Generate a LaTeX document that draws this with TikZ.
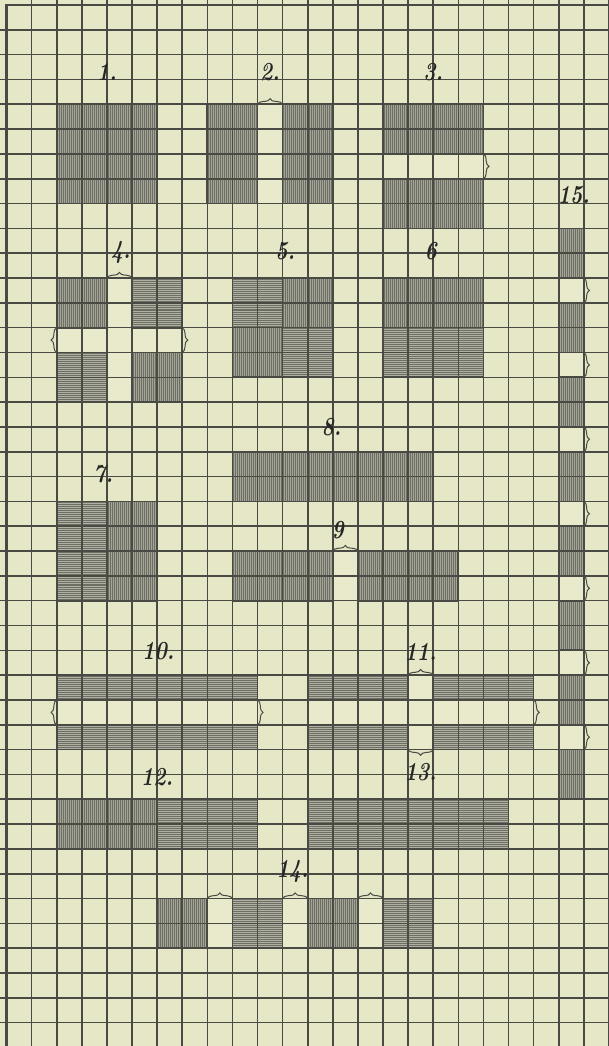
\documentclass[tikz,border=0pt]{standalone}
\usetikzlibrary{decorations.pathreplacing}
\definecolor{paper}{HTML}{E6E7C6}
\definecolor{paperlt}{HTML}{E9EACC}
\definecolor{gridc}{HTML}{4A4A44}
\definecolor{vfillc}{HTML}{A4A596}
\definecolor{hfillc}{HTML}{B0B1A2}
\definecolor{hatchc}{HTML}{6E6F64}
\tikzset{
  gridline/.style={draw=gridc, line width=0.8pt},
  borderline/.style={draw=gridc, line width=1.4pt},
  blockedge/.style={draw=gridc, line width=0.85pt},
  hatch/.style={draw=hatchc, line width=0.3pt},
  gapfill/.style={fill=paperlt},
  gapbrace/.style={draw=gridc, line width=0.5pt, decorate, decoration={brace, amplitude=2.8pt}},
  figlabel/.style={font=\fontsize{13}{13}\selectfont\bfseries\itshape, text=black!85, inner sep=0pt},
}
\newcommand{\vblk}[4]{%
  \begin{scope}
    \clip (#1,#2) rectangle (#3,#4);
    \fill[vfillc] (#1,#2) rectangle (#3,#4);
    \foreach \k in {0,...,100} \draw[hatch] ({#1+0.04+0.08*\k},#2) -- ({#1+0.04+0.08*\k},#4);
  \end{scope}}
\newcommand{\hblk}[4]{%
  \begin{scope}
    \clip (#1,#2) rectangle (#3,#4);
    \fill[hfillc] (#1,#2) rectangle (#3,#4);
    \foreach \k in {0,...,55} \draw[hatch] (#1,{#2+0.04+0.08*\k}) -- (#3,{#2+0.04+0.08*\k});
  \end{scope}}
\newcommand{\lab}[1]{\scalebox{0.8}[1]{#1}}
\begin{document}
\begin{tikzpicture}[x=12.55pt, y=-12.41pt]
  \useasboundingbox (-0.259,-0.2015) rectangle (24.004,41.942);
  \fill[paper] (-0.259,-0.2015) rectangle (24.004,41.942);
  % gaps (lighter paper)
  \fill[gapfill] (10,4) rectangle (11,8);
  \fill[gapfill] (15,6) rectangle (19,7);
  \fill[gapfill] (4,11) rectangle (5,16);
  \fill[gapfill] (2,13) rectangle (7,14);
  \fill[gapfill] (13,22) rectangle (14,24);
  \fill[gapfill] (2,28) rectangle (10,29);
  \fill[gapfill] (16,27) rectangle (17,30);
  \fill[gapfill] (12,28) rectangle (21,29);
  \fill[gapfill] (8,36) rectangle (9,38);
  \fill[gapfill] (11,36) rectangle (12,38);
  \fill[gapfill] (14,36) rectangle (15,38);
  \foreach \r in {11,14,17,20,23,26,29} \fill[gapfill] (22,\r) rectangle (23,\r+1);
  % fig 1
  \vblk{2}{4}{6}{8}
  % fig 2
  \vblk{8}{4}{10}{8} \vblk{11}{4}{13}{8}
  % fig 3
  \vblk{15}{4}{19}{6} \vblk{15}{7}{19}{9}
  % fig 4
  \vblk{2}{11}{4}{13} \hblk{5}{11}{7}{13}
  \hblk{2}{14}{4}{16} \vblk{5}{14}{7}{16}
  % fig 5
  \hblk{9}{11}{11}{13} \vblk{11}{11}{13}{13}
  \vblk{9}{13}{11}{15} \hblk{11}{13}{13}{15}
  % fig 6
  \vblk{15}{11}{19}{13} \hblk{15}{13}{19}{15}
  % fig 7
  \hblk{2}{20}{4}{24} \vblk{4}{20}{6}{24}
  % fig 8
  \vblk{9}{18}{17}{20}
  % fig 9
  \vblk{9}{22}{13}{24} \vblk{14}{22}{18}{24}
  % fig 10
  \hblk{2}{27}{10}{28} \hblk{2}{29}{10}{30}
  % fig 11
  \hblk{12}{27}{16}{28} \hblk{17}{27}{21}{28}
  \hblk{12}{29}{16}{30} \hblk{17}{29}{21}{30}
  % fig 12
  \vblk{2}{32}{6}{34} \hblk{6}{32}{10}{34}
  % fig 13
  \hblk{12}{32}{20}{34}
  % fig 14
  \vblk{6}{36}{8}{38} \hblk{9}{36}{11}{38}
  \vblk{12}{36}{14}{38} \hblk{15}{36}{17}{38}
  % fig 15
  \foreach \r in {9,12,15,18,21,24,27,30} \vblk{22}{\r}{23}{\r+2}
  % grid
  \foreach \i in {1,...,24} \draw[gridline] (\i,-0.3) -- (\i,42.3);
  \foreach \j in {1,...,42} \draw[gridline] (-0.3,\j) -- (24.3,\j);
  \draw[borderline] (0,42.3) -- (0,0) -- (24.3,0);
  % block outlines
  \foreach \a/\b/\c/\d in {2/4/6/8, 8/4/10/8, 11/4/13/8, 15/4/19/6, 15/7/19/9,
      2/11/4/13, 5/11/7/13, 2/14/4/16, 5/14/7/16, 9/11/13/15, 15/11/19/15,
      2/20/6/24, 9/18/17/20, 9/22/13/24, 14/22/18/24,
      2/27/10/28, 2/29/10/30, 12/27/16/28, 17/27/21/28, 12/29/16/30, 17/29/21/30,
      2/32/10/34, 12/32/20/34, 6/36/8/38, 9/36/11/38, 12/36/14/38, 15/36/17/38}
    \draw[blockedge] (\a,\b) rectangle (\c,\d);
  \foreach \r in {9,12,15,18,21,24,27,30} \draw[blockedge] (22,\r) rectangle (23,\r+2);
  % braces
  \coordinate (b2a) at (10,4); \coordinate (b2b) at (11,4);
  \draw[gapbrace] (b2a) -- (b2b);
  \coordinate (b3a) at (19,6); \coordinate (b3b) at (19,7);
  \draw[gapbrace] (b3a) -- (b3b);
  \coordinate (b4a) at (4,11); \coordinate (b4b) at (5,11);
  \draw[gapbrace] (b4a) -- (b4b);
  \coordinate (b4c) at (2,14); \coordinate (b4d) at (2,13);
  \draw[gapbrace] (b4c) -- (b4d);
  \coordinate (b4e) at (7,13); \coordinate (b4f) at (7,14);
  \draw[gapbrace] (b4e) -- (b4f);
  \coordinate (b9a) at (13,22); \coordinate (b9b) at (14,22);
  \draw[gapbrace] (b9a) -- (b9b);
  \coordinate (b10a) at (2,29); \coordinate (b10b) at (2,28);
  \draw[gapbrace] (b10a) -- (b10b);
  \coordinate (b10c) at (10,28); \coordinate (b10d) at (10,29);
  \draw[gapbrace] (b10c) -- (b10d);
  \coordinate (b11a) at (16,27); \coordinate (b11b) at (17,27);
  \draw[gapbrace] (b11a) -- (b11b);
  \coordinate (b11c) at (17,30); \coordinate (b11d) at (16,30);
  \draw[gapbrace] (b11c) -- (b11d);
  \coordinate (b11e) at (21,28); \coordinate (b11f) at (21,29);
  \draw[gapbrace] (b11e) -- (b11f);
  \foreach \c in {8,11,14} {
    \coordinate (b14a\c) at (\c,36); \coordinate (b14b\c) at (\c+1,36);
    \draw[gapbrace] (b14a\c) -- (b14b\c);
  }
  \foreach \r in {11,14,17,20,23,26,29} {
    \coordinate (b15a\r) at (23,\r); \coordinate (b15b\r) at (23,\r+1);
    \draw[gapbrace] (b15a\r) -- (b15b\r);
  }
  % labels
  \node[figlabel] (l1)  at (4.0,2.7)   {\lab{1.}};
  \node[figlabel] (l2)  at (10.5,2.7)  {\lab{2.}};
  \node[figlabel] (l3)  at (17.0,2.7)  {\lab{3.}};
  \node[figlabel] (l4)  at (4.55,9.95) {\lab{4.}};
  \node[figlabel] (l5)  at (11.1,9.9)  {\lab{5.}};
  \node[figlabel] (l6)  at (16.9,9.9)  {\lab{6}};
  \node[figlabel] (l7)  at (3.85,18.9) {\lab{7.}};
  \node[figlabel] (l8)  at (12.95,17.0){\lab{8.}};
  \node[figlabel] (l9)  at (13.2,21.15){\lab{9}};
  \node[figlabel] (l10) at (6.05,26.05){\lab{10.}};
  \node[figlabel] (l11) at (16.5,26.05){\lab{11.}};
  \node[figlabel] (l12) at (6.0,31.1)  {\lab{12.}};
  \node[figlabel] (l13) at (16.5,30.9) {\lab{13.}};
  \node[figlabel] (l14) at (11.4,34.9) {\lab{14.}};
  \node[figlabel] (l15) at (22.6,7.65) {\lab{15.}};
\end{tikzpicture}
\end{document}
